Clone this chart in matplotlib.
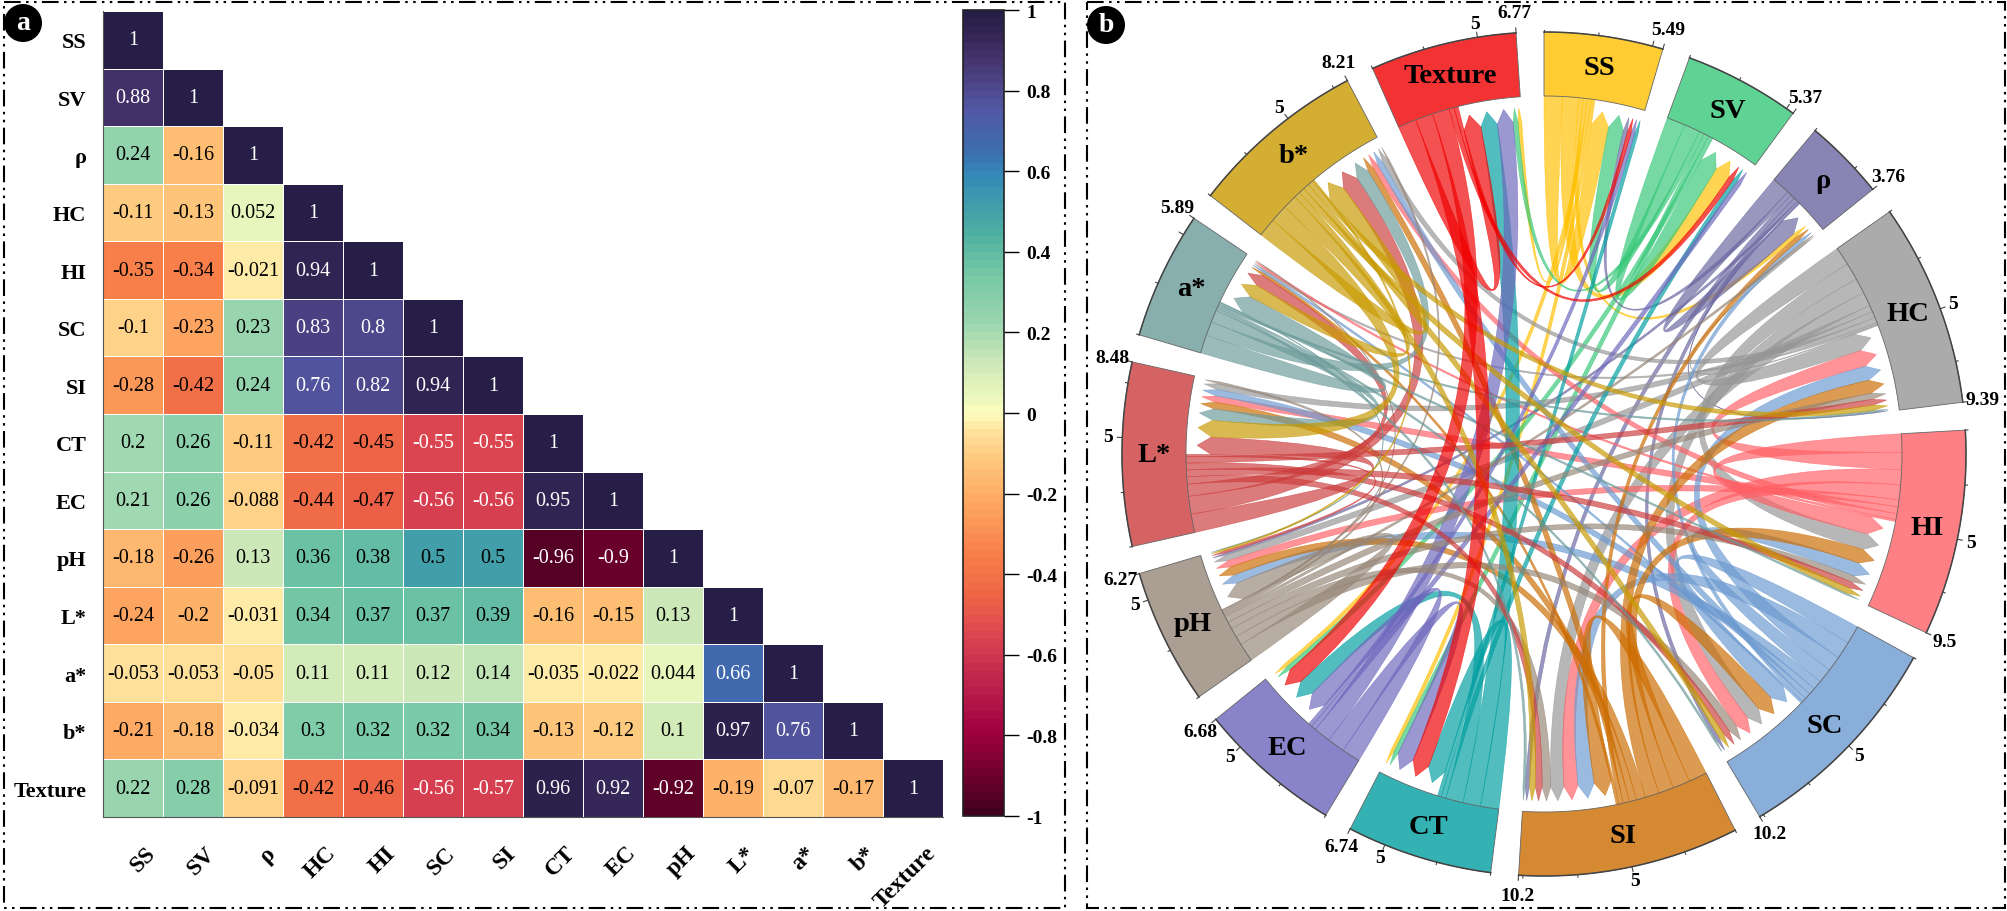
# -*- coding: utf-8 -*-
import numpy as np
import matplotlib
matplotlib.use('Agg')
import matplotlib.pyplot as plt
from matplotlib.colors import LinearSegmentedColormap
from matplotlib.patches import Circle, PathPatch, Polygon, Rectangle
from matplotlib.path import Path
from matplotlib.transforms import ScaledTranslation

plt.rcParams['font.family'] = ['Liberation Serif', 'DejaVu Serif']

W, H = 2008, 912

names = ['SS', 'SV', 'ρ', 'HC', 'HI', 'SC', 'SI', 'CT', 'EC', 'pH', 'L*', 'a*', 'b*', 'Texture']

# lower triangle as printed in panel a
rows = [
    ['1'],
    ['0.88', '1'],
    ['0.24', '-0.16', '1'],
    ['-0.11', '-0.13', '0.052', '1'],
    ['-0.35', '-0.34', '-0.021', '0.94', '1'],
    ['-0.1', '-0.23', '0.23', '0.83', '0.8', '1'],
    ['-0.28', '-0.42', '0.24', '0.76', '0.82', '0.94', '1'],
    ['0.2', '0.26', '-0.11', '-0.42', '-0.45', '-0.55', '-0.55', '1'],
    ['0.21', '0.26', '-0.088', '-0.44', '-0.47', '-0.56', '-0.56', '0.95', '1'],
    ['-0.18', '-0.26', '0.13', '0.36', '0.38', '0.5', '0.5', '-0.96', '-0.9', '1'],
    ['-0.24', '-0.2', '-0.031', '0.34', '0.37', '0.37', '0.39', '-0.16', '-0.15', '0.13', '1'],
    ['-0.053', '-0.053', '-0.05', '0.11', '0.11', '0.12', '0.14', '-0.035', '-0.022', '0.044', '0.66', '1'],
    ['-0.21', '-0.18', '-0.034', '0.3', '0.32', '0.32', '0.34', '-0.13', '-0.12', '0.1', '0.97', '0.76', '1'],
    ['0.22', '0.28', '-0.091', '-0.42', '-0.46', '-0.56', '-0.57', '0.96', '0.92', '-0.92', '-0.19', '-0.07', '-0.17', '1'],
]

totals = [5.49, 5.37, 3.76, 9.39, 9.5, 10.2, 10.2, 6.74, 6.68, 6.27, 8.48, 5.89, 8.21, 6.77]
total_labels = ['5.49', '5.37', '3.76', '9.39', '9.5', '10.2', '10.2', '6.74', '6.68', '6.27', '8.48', '5.89', '8.21', '6.77']

link_colors = ['#FFC000', '#36C878', '#6A66A0', '#969696', '#FF6066', '#6C9AD0', '#CC6C00',
               '#009EA0', '#6C66BC', '#968678', '#CC3C3C', '#6C9A9A', '#C89A00', '#F00000']

cmap_stops = [(-1, '#42001F'), (-0.92, '#680029'), (-0.8, '#A0003F'), (-0.65, '#C42A4E'),
              (-0.56, '#DA4450'), (-0.46, '#EE6446'), (-0.35, '#F8804A'), (-0.2, '#FEAE66'),
              (-0.11, '#FDCB80'), (-0.05, '#FFE09A'), (0, '#FFFDBE'), (0.052, '#E6F6BC'),
              (0.13, '#CDE8B8'), (0.22, '#9CD6B0'), (0.34, '#78C8A6'), (0.45, '#4EB0A0'),
              (0.6, '#3388B8'), (0.66, '#3D6CB0'), (0.76, '#5358A5'), (0.88, '#463570'),
              (0.94, '#352858'), (1, '#261E46')]

n = len(names)
corr = np.full((n, n), np.nan)
for i, row in enumerate(rows):
    for j, val in enumerate(row):
        corr[i, j] = float(val)

full = np.where(np.isnan(corr), corr.T, corr)

cmap = LinearSegmentedColormap.from_list(
    'corr', [((v + 1) / 2, c) for v, c in cmap_stops], N=100)


def px_axes(fig, x0, y0, x1, y1):
    # axes from pixel box, y measured from the top
    return fig.add_axes([x0 / W, 1 - y1 / H, (x1 - x0) / W, (y1 - y0) / H])


fig = plt.figure(figsize=(W / 100, H / 100), dpi=100)

# panel a
ax = px_axes(fig, 103, 12, 943, 818)
mesh = ax.pcolormesh(np.ma.masked_invalid(corr), cmap=cmap, vmin=-1, vmax=1,
                     edgecolors='white', linewidth=0.6)
ax.set_xlim(0, n)
ax.set_ylim(n, 0)
for i, row in enumerate(rows):
    for j, val in enumerate(row):
        col = 'white' if abs(corr[i, j]) >= 0.55 else 'black'
        ax.text(j + 0.5, i + 0.5, val, ha='center', va='center', color=col, fontsize=14.5)
for s in ('top', 'right'):
    ax.spines[s].set_visible(False)
for s in ('left', 'bottom'):
    ax.spines[s].set_color('#555555')
ax.tick_params(length=0)
ax.set_yticks(np.arange(n) + 0.5)
ax.set_yticklabels(names, fontsize=16, fontweight='bold')
ax.tick_params(axis='y', pad=12)
ax.set_xticks(np.arange(n) + 0.5)
ax.set_xticklabels(names, fontsize=17, fontweight='bold', rotation=45, ha='right',
                   va='top', rotation_mode='anchor')
ax.tick_params(axis='x', pad=18)
offset = ScaledTranslation(12 / 100, 0, fig.dpi_scale_trans)
for lab in ax.get_xticklabels():
    lab.set_transform(lab.get_transform() + offset)

cax = px_axes(fig, 963, 11, 1004, 817)
cb = fig.colorbar(mesh, cax=cax, ticks=np.arange(-1, 1.01, 0.2))
cb.ax.set_yticklabels(['-1', '-0.8', '-0.6', '-0.4', '-0.2', '0', '0.2', '0.4', '0.6', '0.8', '1'],
                      fontsize=14, fontweight='bold')
cb.ax.tick_params(length=11, width=1, pad=5)
cb.outline.set_edgecolor('#222222')
cb.outline.set_linewidth(1.2)

# panel b, chord diagram, data units are pixels
cx, cy = 1544, 455
half = 455
chord = px_axes(fig, cx - half, cy - half, cx + half, cy + half)
chord.set_xlim(-half, half)
chord.set_ylim(-half, half)
chord.axis('off')

R_OUT, R_IN = 422, 358
R_TIP, R_SHOULDER = 347, 333
GAP = 3.8
unit = (360 - GAP * n) / sum(totals)


def pol(theta, r):
    t = np.radians(theta)
    return (r * np.sin(t), r * np.cos(t))


def ctrl(t0, t1, width):
    # control point of one ribbon edge, pushed off the centre so the band keeps some width
    arc = (t1 - t0) % 360
    off = 0.28 * R_IN * np.radians(width) * np.sin(np.radians(arc / 2))
    return pol(t0 + arc / 2, off)


starts = []
a = 0.0
for t in totals:
    starts.append(a)
    a += t * unit + GAP

# slots along each sector: outgoing first, then incoming, biggest first
out_slots = {}
in_slots = {}
for i in range(n):
    pos = starts[i]
    partners = [j for j in np.argsort(-full[i], kind='stable') if full[i, j] > 0]
    for j in partners:
        w = full[i, j] * unit
        out_slots[(i, j)] = (pos, pos + w)
        pos += w
    for j in partners:
        w = full[i, j] * unit
        in_slots[(j, i)] = (pos, pos + w)
        pos += w

for i in range(n):
    for j in range(n):
        if full[i, j] <= 0:
            continue
        a1, a2 = out_slots[(i, j)]
        b1, b2 = in_slots[(i, j)]
        w = a2 - a1
        verts = [pol(a1, R_IN)]
        codes = [Path.MOVETO]
        for th in np.linspace(a1, a2, 6)[1:]:
            verts.append(pol(th, R_IN))
            codes.append(Path.LINETO)
        verts += [ctrl(a2, b1, w), pol(b1, R_SHOULDER), pol((b1 + b2) / 2, R_TIP), pol(b2, R_SHOULDER),
                  ctrl(b2, a1, w), pol(a1, R_IN)]
        codes += [Path.CURVE3, Path.CURVE3, Path.LINETO, Path.LINETO, Path.CURVE3, Path.CURVE3]
        chord.add_patch(PathPatch(Path(verts, codes), facecolor=link_colors[i], edgecolor=link_colors[i],
                                  linewidth=0.4, alpha=0.68))

for i in range(n):
    th = np.linspace(starts[i], starts[i] + totals[i] * unit, 80)
    outer = [pol(t, R_OUT) for t in th]
    inner = [pol(t, R_IN) for t in th[::-1]]
    chord.add_patch(Polygon(outer + inner, closed=True, facecolor=link_colors[i], alpha=0.8,
                            edgecolor='none'))
    chord.add_patch(Polygon(outer + inner, closed=True, fill=False, edgecolor='#666666', linewidth=0.6))
    chord.plot(*zip(*outer), color='#444444', lw=1.1)
    # ticks every 2.5, longer at 5 and at the sector end
    for v in list(np.arange(0, totals[i], 2.5)) + [totals[i]]:
        tl = 5 if v == 5 or v == totals[i] else 2.5
        tv = starts[i] + v * unit
        chord.plot(*zip(pol(tv, R_OUT), pol(tv, R_OUT + tl)), color='#444444', lw=0.8)
    if totals[i] >= 6:
        x5, y5 = pol(starts[i] + 5 * unit, R_OUT + 14)
        chord.text(x5, y5, '5', ha='center', va='center', fontsize=14, fontweight='bold')
    xe, ye = pol(starts[i] + totals[i] * unit, R_OUT + 20)
    chord.text(xe, ye, total_labels[i], ha='center', va='center', fontsize=14, fontweight='bold')
    xl, yl = pol(starts[i] + totals[i] * unit / 2, 390)
    chord.text(xl, yl, names[i], ha='center', va='center', fontsize=20.5, fontweight='bold')

# frames and panel badges, pixel overlay
over = fig.add_axes([0, 0, 1, 1], zorder=5)
over.set_xlim(0, W)
over.set_ylim(H, 0)
over.axis('off')
dash = (0, (8, 2.6, 1.2, 2.6, 1.2, 2.6))
for x0, x1 in ((4, 1065), (1087, 2005)):
    over.add_patch(Rectangle((x0, 3), x1 - x0, 906, fill=False, edgecolor='black', lw=1.5, linestyle=dash))
for x, y, lab in ((23, 24, 'a'), (1106, 26, 'b')):
    over.add_patch(Circle((x, y), 19, facecolor='black', edgecolor='none'))
    over.text(x, y - 1, lab, color='white', ha='center', va='center', fontsize=20, fontweight='bold')

fig.savefig('out.png', dpi=100)
